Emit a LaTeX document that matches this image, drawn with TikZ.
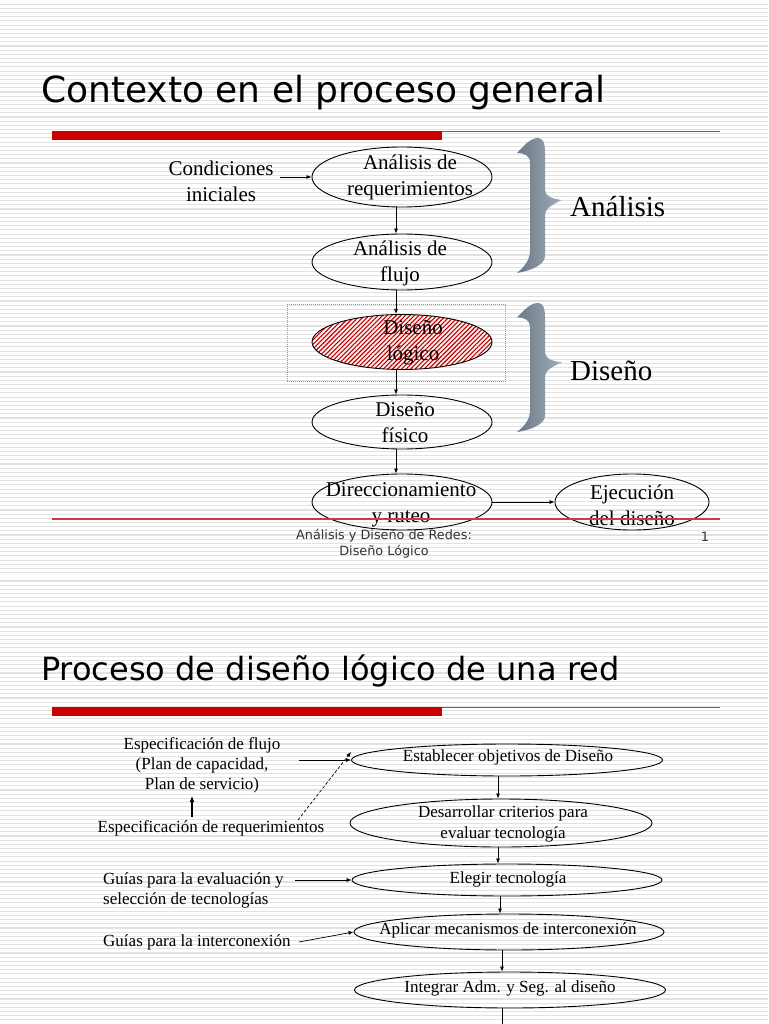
\documentclass[tikz,border=0pt]{standalone}
\usepackage{fontspec}
\setmainfont{Liberation Serif}
\newfontfamily\dejavu{DejaVu Sans}
\usetikzlibrary{arrows.meta,patterns.meta,shapes.geometric}
\definecolor{stripecol}{RGB}{226,226,226}
\definecolor{barred}{RGB}{204,0,0}
\definecolor{linered}{RGB}{205,60,60}
\definecolor{braceA}{RGB}{108,120,134}
\definecolor{braceB}{RGB}{160,172,183}
\definecolor{footcol}{RGB}{50,50,50}
\begin{document}
\begin{tikzpicture}[x=1pt,y=-1pt,
  stripe/.style={draw=stripecol,line width=1.1pt},
  ell/.style={draw,ellipse,line width=0.9pt,inner sep=0pt},
  txta/.style={font=\fontsize{21}{26}\selectfont,align=center,inner sep=0pt},
  txtb/.style={font=\fontsize{17}{20}\selectfont,align=center,inner sep=0pt},
  txtl/.style={font=\fontsize{17}{20}\selectfont,align=left,inner sep=0pt,anchor=west},
  arr/.style={-{Latex[length=5pt,width=4pt]},line width=0.7pt},
  bracefill/.style={left color=braceA,right color=braceB,draw=none},
  foot/.style={font=\dejavu\fontsize{12.8}{16}\selectfont,text=footcol,align=center,inner sep=0pt}
]
\useasboundingbox (0,0) rectangle (768,1024);
\fill[white] (0,0) rectangle (768,1024);
\foreach \i in {1,...,137} {\draw[stripe] (0,{4.18*\i}) -- (768,{4.18*\i});}
\foreach \i in {0,...,106} {\draw[stripe] (0,{581+4.18*\i}) -- (768,{581+4.18*\i});}

% ---------------- slide 1 ----------------
\node[anchor=base west,inner sep=0pt,font=\dejavu\fontsize{36}{40}\selectfont] (t1) at (41,103) {Contexto en el proceso general};
\fill[barred] (52,131) rectangle (442,140);
\draw[linered,line width=1.4pt] (442,131.5) -- (720,131.5);

\node[ell,minimum width=180,minimum height=60] (req) at (402,177) {};
\node[txta] (reqt) at (410,177) {Análisis de\\requerimientos};
\node[ell,minimum width=180,minimum height=56] (flu) at (402,262) {};
\node[txta] (flut) at (400,263) {Análisis de\\flujo};
\node[draw=gray!80,dash pattern=on 1pt off 1pt,line width=0.6pt,minimum width=218,minimum height=77,inner sep=0pt] (box) at (396,343) {};
\node[ell,minimum width=180,minimum height=55,preaction={fill=red!6},
  pattern={Lines[angle=45,distance=3.2pt,line width=1.1pt]},pattern color=red!75!black] (log) at (402,342) {};
\node[txta] (logt) at (413,343) {Diseño\\lógico};
\node[ell,minimum width=180,minimum height=54] (fis) at (402,422) {};
\node[txta] (fist) at (405,423) {Diseño\\ físico};
\node[ell,minimum width=180,minimum height=56] (dir) at (402,502) {};
\node[txta] (dirt) at (401,505) {Direccionamiento\\y ruteo};
\node[ell,minimum width=154,minimum height=56] (eje) at (632,502) {};
\node[txta] (ejet) at (632,505) {Ejecución\\del diseño};
\node[txta] (cond) at (221,181) {Condiciones\\iniciales};

\draw[arr] (cond.east |- req.west) ++(6,0) -- (req.west);
\draw[arr] ([xshift=-6pt]req.south) -- ([xshift=-6pt]flu.north);
\draw[arr] ([xshift=-6pt]flu.south) -- ([xshift=-6pt]log.north);
\draw[arr] ([xshift=-6pt]log.south) -- ([xshift=-6pt]fis.north);
\draw[arr] ([xshift=-6pt]fis.south) -- ([xshift=-6pt]dir.north);
\draw[arr] (dir.east) -- (eje.west);

% braces
\begin{scope}[shift={(0,138)}]
\shade[bracefill] (517,15) .. controls (524,8) and (530,0) .. (538,0)
  .. controls (543,0) and (545,5) .. (545,14) -- (545,52)
  .. controls (545,58) and (552,61) .. (562,62)
  .. controls (553,66) and (546,70) .. (545,76) -- (545,118)
  .. controls (545,127) and (530,133) .. (517,135)
  .. controls (525,128) and (530,122) .. (530,112) -- (530,25)
  .. controls (530,18) and (525,15) .. (517,15) -- cycle;
\end{scope}
\begin{scope}[shift={(0,303)},yscale=0.956]
\shade[bracefill] (517,15) .. controls (524,8) and (530,0) .. (538,0)
  .. controls (543,0) and (545,5) .. (545,14) -- (545,52)
  .. controls (545,58) and (552,61) .. (562,62)
  .. controls (553,66) and (546,70) .. (545,76) -- (545,118)
  .. controls (545,127) and (530,133) .. (517,135)
  .. controls (525,128) and (530,122) .. (530,112) -- (530,25)
  .. controls (530,18) and (525,15) .. (517,15) -- cycle;
\end{scope}
\node[anchor=base west,inner sep=0pt,font=\fontsize{29}{32}\selectfont] (lana) at (570,217) {Análisis};
\node[anchor=base west,inner sep=0pt,font=\fontsize{29}{32}\selectfont] (ldis) at (570,380) {Diseño};

\draw[linered,line width=1.4pt] (52,519) -- (720,519);
\node[foot] (f1) at (384,544) {Análisis y Diseño de Redes:\\Diseño Lógico};
\node[foot] (pg) at (705,537) {1};

% ---------------- slide 2 ----------------
\node[anchor=base west,inner sep=0pt,font=\dejavu\fontsize{32}{36}\selectfont] (t2) at (41,680) {Proceso de diseño lógico de una red};
\fill[barred] (52,707) rectangle (442,716);
\draw[linered,line width=1.4pt] (442,707.5) -- (720,707.5);

\node[ell,minimum width=311,minimum height=32] (e1) at (507,760) {};
\node[txtb] (e1t) at (508,757) {Establecer objetivos de Diseño};
\node[ell,minimum width=302,minimum height=48] (e2) at (501,823) {};
\node[txtb,font=\fontsize{17}{21}\selectfont] (e2t) at (503,824) {Desarrollar criterios para\\evaluar tecnología};
\node[ell,minimum width=310,minimum height=32] (e3) at (507,880) {};
\node[txtb] (e3t) at (508,879) {Elegir tecnología};
\node[ell,minimum width=310,minimum height=36] (e4) at (509,932) {};
\node[txtb] (e4t) at (508,930) {Aplicar mecanismos de interconexión};
\node[ell,minimum width=311,minimum height=36] (e5) at (510,990) {};
\node[txtb] (e5t) at (510,988) {Integrar Adm. y Seg. al diseño};

\node[txtb] (sflu) at (202,765) {Especificación de flujo\\(Plan de capacidad,\\Plan de servicio)};
\node[txtb] (sreq) at (211,828) {Especificación de requerimientos};
\node[txtl] (gev) at (103,890) {Guías para la evaluación y\\selección de tecnologías};
\node[txtl] (gin) at (103,942) {Guías para la interconexión};

\coordinate (xa) at (498,0);
\coordinate (xb) at (500,0);
\coordinate (xc) at (502,0);
\coordinate (bot) at (502,1024);
\coordinate (dstart) at (298,820);

\draw[arr] (e1.south -| xa) -- (e2.north -| xa);
\draw[arr] (e2.south -| xa) -- (e3.north -| xa);
\draw[arr] (e3.south -| xb) -- (e4.north -| xb);
\draw[arr] (e4.south -| xc) -- (e5.north -| xc);
\draw[line width=0.7pt] (e5.south -| bot) -- (bot);

\draw[arr] (sflu.east |- e1.west) ++(18,0) -- (e1.west);
\draw[arr,dash pattern=on 3pt off 2pt] (dstart) -- ([yshift=8pt]e1.west);
\draw[-{Latex[length=6pt,width=5pt]},line width=1.4pt] ([xshift=-19pt,yshift=3pt]sreq.north) -- ([xshift=-10pt,yshift=-3pt]sflu.south);
\draw[arr] (gev.east |- e3.west) ++(11,0) -- (e3.west);
\draw[arr] ([xshift=8pt]gin.east) -- (e4.west);
\end{tikzpicture}
\end{document}
